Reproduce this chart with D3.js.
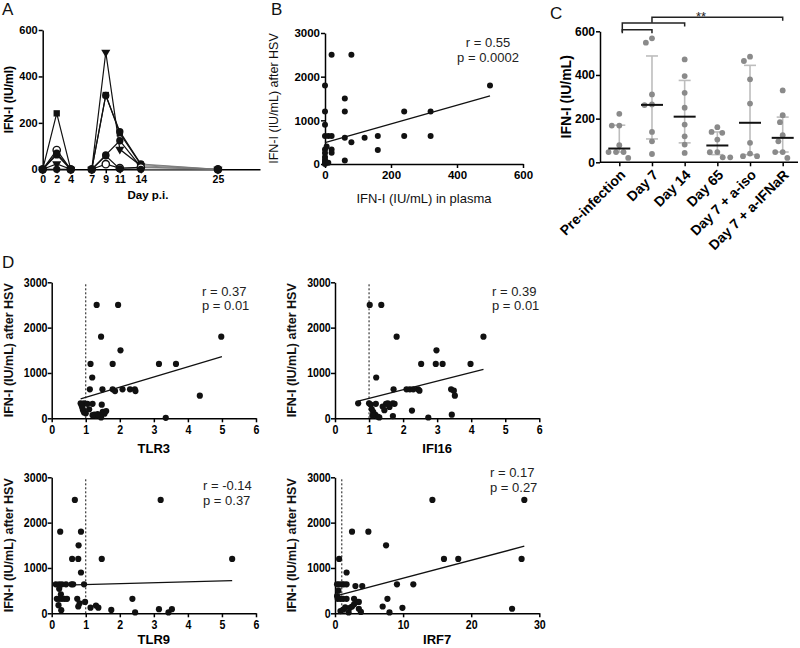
<!DOCTYPE html>
<html><head><meta charset="utf-8">
<script src="https://cdn.jsdelivr.net/npm/d3@7"></script>
<style>
body{margin:0;background:#fff}
svg{display:block}
text{font-family:"Liberation Sans",Arial,Helvetica,sans-serif}
</style>
</head><body>
<script>
// ---------------- DATA ----------------
// Panel A
const aDays1 = [0, 2, 4];
const aDays2 = [7, 9, 11, 14, 25];
const aDayTicks = [0, 2, 4, 7, 9, 11, 14, 25];
const aYTicks = [0, 200, 400, 600];
const aGroup1 = [[0,241,0],[0,83,0],[0,69,0],[0,62,0],[0,23,0],[0,0,0]];
const aGroup1Markers = ["square","openCircle","circle","circle","triangleDown","circle"];
const aGroup2 = [[0,504,86,15,0],[0,320,155,20,0],[0,318,162,23,0],[0,62,123,10,0],[0,22,5,8,0],[0,58,2,0,0]];
const aGroup2Markers = ["triangleDown","square","circle","circle","openCircle","circle"];

// Panel B
const bPlasma = [20,80,0,500,60,0,60,240,320,0,0,10,20,60,120,160,240,320,80,160,0,0,0,0,0,0,20,20,60,5,0,10];
const bHSV    = [2500,2500,1800,1800,1500,1200,1200,1200,1200,900,640,640,640,600,600,640,640,640,500,320,330,250,160,100,50,0,330,260,80,400,20,30];
const bFit = [[0,490],[500,1560]];
const bXTicks = [0,200,400,600];
const bYTicks = [0,1000,2000,3000];
const bStats = ["r = 0.55","p = 0.0002"];

// Panel C
const cCategories = ["Pre-infection","Day 7","Day 14","Day 65","Day 7 + a-iso","Day 7 + a-IFNaR"];
const cPre     = [222,168,168,78,47,47,47,20];
const cDay7    = [568,548,311,265,262,139,96,38];
const cDay14   = [471,395,318,250,173,119,81,43];
const cDay65   = [161,139,135,104,47,46,23,23];
const cIso     = [484,464,380,269,89,40,28,28];
const cIFNaR   = [329,216,184,124,96,47,47,20];
const cMedian  = [63,263,209,77,181,112];
const cQ1      = [47,107,89,35,35,47];
const cQ3      = [170,487,375,139,444,207];
const cYTicks  = [0,200,400,600];
const cBrackets = [["Day 7","Day 7 + a-IFNaR"],["Pre-infection","Day 14"],["Pre-infection","Day 7"]];
const cSignif = "**";

// Panel D
const dNames = ["TLR3","IFI16","TLR9","IRF7"];
const dStats = [["r = 0.37","p = 0.01"],["r = 0.39","p = 0.01"],["r = -0.14","p = 0.37"],["r = 0.17","p = 0.27"]];
const dXDomains = [[0,6],[0,6],[0,6],[0,30]];
const dXTicks = [[0,1,2,3,4,5,6],[0,1,2,3,4,5,6],[0,1,2,3,4,5,6],[0,10,20,30]];
const dYTicks = [0,1000,2000,3000];
const dCutoff = 1;

const tlr3X = [1.32,1.95,1.45,4.98,2.02,1.14,1.79,3.15,3.65,1.19,1.12,1.49,1.79,1.86,2.08,2.30,2.44,2.46,4.35,3.35,0.85,0.95,1.05,1.2,0.88,0.92,0.95,1.0,1.1,1.25,1.3,1.4,1.47,1.5,1.55,1.45,1.6,1.35,1.2,0.9];
const tlr3Y = [2500,2500,1800,1800,1500,1200,1200,1200,1200,900,640,640,640,600,640,640,640,600,500,10,330,330,320,320,280,180,130,110,200,80,60,60,300,140,100,20,160,90,70,230];
const tlr3Fit = [[0.85,430],[5.0,1360]];

const ifi16X = [1.02,1.36,1.81,4.36,2.98,2.53,2.96,3.16,3.98,1.21,1.72,2.1,2.2,2.3,2.44,2.48,3.41,3.49,3.52,3.43,2.74,2.26,0.68,1.0,1.05,1.08,1.12,1.18,1.25,1.3,1.1,1.4,1.5,1.55,1.6,1.7,1.75,1.7,1.45,1.2];
const ifi16Y = [2500,2500,1800,1800,1500,1200,1200,1200,1200,900,640,640,640,640,640,610,640,610,500,80,18,170,330,330,300,200,140,80,40,20,60,260,320,330,250,330,320,50,180,320];
const ifi16Fit = [[0.68,380],[4.36,1080]];

const tlr9X = [0.68,3.2,0.25,0.86,0.79,0.6,0.78,1.47,5.3,0.86,0.12,0.22,0.3,0.42,0.58,0.63,0.95,0.22,0.27,0.15,0.22,0.3,0.38,0.45,0.75,0.82,0.78,0.2,0.28,0.98,1.14,1.3,1.37,1.75,2.37,2.45,3.15,3.43,3.53];
const tlr9Y = [2500,2500,1800,1800,1500,1200,1200,1200,1200,900,640,640,640,640,640,640,640,540,420,320,320,320,320,320,320,220,150,180,70,250,125,170,125,75,320,20,90,20,90];
const tlr9Fit = [[0.12,615],[5.3,720]];

const irf7X = [14.3,27.8,2.5,4.9,7.5,0.6,16,18.1,27.4,1.7,11.5,9.1,4,3,7.7,7,9.9,8,26,0.3,0.6,1.0,1.3,1.7,0.5,0.4,0.8,1.2,1.7,2.8,3.2,0.8,1.2,1.5,2.0,2.5,2.8,3.5,3.8,3.5,0.3,2.2];
const irf7Y = [2500,2500,1800,1800,1500,1200,1200,1200,1200,900,640,640,600,600,320,150,120,20,100,640,640,640,640,640,500,320,320,320,320,320,250,50,80,130,20,150,200,100,30,250,380,120];
const irf7Fit = [[0.3,390],[27.8,1480]];

// ---------------- DRAW ----------------
const FONT = '"Liberation Sans",Arial,Helvetica,sans-serif';
const fmt = d3.format("d");
const svg = d3.select("body").append("svg").attr("width",800).attr("height",648);
svg.append("rect").attr("width",800).attr("height",648).attr("fill","#fff");

function styleAxis(g, o) {
  g.select(".domain").attr("stroke","#000").attr("stroke-width",o.sw || 1.5);
  g.selectAll(".tick line").attr("stroke","#000").attr("stroke-width",o.sw || 1.5);
  const t = g.selectAll(".tick text").attr("fill","#000")
    .style("font-size",o.fs+"px").style("font-weight","bold").style("font-family",FONT);
  if (o.sx) t.attr("transform",`scale(${o.sx},1)`);
}
function letter(x,y,s){ svg.append("text").attr("x",x).attr("y",y).text(s).style("font-size","17px").attr("fill","#111"); }

// ---- Panel A ----
letter(2,15,"A");
const xA = d3.scaleLinear().domain([0,31]).range([42.7,260]);
const yA = d3.scaleLinear().domain([0,600]).range([169.3,30]);
const gA = svg.append("g");
gA.append("g").attr("transform",`translate(0,${yA(0)})`)
  .call(d3.axisBottom(xA).tickValues(aDayTicks).tickFormat(fmt).tickSize(4).tickSizeOuter(0).tickPadding(2))
  .call(g=>styleAxis(g,{fs:10.5}));
gA.append("g").attr("transform",`translate(${xA(0)},0)`)
  .call(d3.axisLeft(yA).tickValues(aYTicks).tickFormat(fmt).tickSize(4).tickSizeOuter(0).tickPadding(1))
  .call(g=>styleAxis(g,{fs:11}));
gA.append("text").attr("transform",`translate(13,${(yA(0)+yA(600))/2}) rotate(-90)`)
  .attr("text-anchor","middle").style("font-size","12px").style("font-weight","bold").text("IFN-I (IU/ml)");
gA.append("text").attr("x",148).attr("y",199).attr("text-anchor","middle")
  .style("font-size","11.5px").style("font-weight","bold").text("Day p.i.");

const lineA = d3.line().x(d=>xA(d[0])).y(d=>yA(d[1]));
function symbolPath(kind){
  if (kind==="square") return d3.symbol().type(d3.symbolSquare).size(40)();
  if (kind==="triangleDown") return d3.symbol().type(d3.symbolTriangle).size(36)();
  return d3.symbol().type(d3.symbolCircle).size(42)();
}
function drawAGroup(days, group, markers){
  group.forEach((vals,i)=>{
    const pts = days.map((d,j)=>[d,vals[j]]);
    const main = pts.filter(p=>p[0]<=14), tail = pts.filter(p=>p[0]>=14);
    gA.append("path").attr("d",lineA(main)).attr("fill","none").attr("stroke","#111").attr("stroke-width",1.2);
    if (tail.length>1) gA.append("path").attr("d",lineA(tail)).attr("fill","none").attr("stroke","#777").attr("stroke-width",0.9);
  });
  group.forEach((vals,i)=>{
    const kind = markers[i];
    days.forEach((d,j)=>{
      const p = gA.append("path").attr("d",symbolPath(kind))
        .attr("transform",`translate(${xA(d)},${yA(vals[j])})${kind==="triangleDown"?" rotate(180)":""}`);
      if (kind==="openCircle") p.attr("fill","#fff").attr("stroke","#111").attr("stroke-width",1.4);
      else p.attr("fill","#111");
    });
  });
}
drawAGroup(aDays1,aGroup1,aGroup1Markers);
drawAGroup(aDays2,aGroup2,aGroup2Markers);

// ---- Panel B ----
letter(271,15,"B");
const xB = d3.scaleLinear().domain([0,600]).range([325,523]);
const yB = d3.scaleLinear().domain([0,3000]).range([164,33]);
const gB = svg.append("g");
gB.append("g").attr("transform",`translate(0,${yB(0)})`)
  .call(d3.axisBottom(xB).tickValues(bXTicks).tickFormat(fmt).tickSize(4).tickSizeOuter(0).tickPadding(3))
  .call(g=>styleAxis(g,{fs:11.5}));
gB.append("g").attr("transform",`translate(${xB(0)},0)`)
  .call(d3.axisLeft(yB).tickValues(bYTicks).tickFormat(fmt).tickSize(4).tickSizeOuter(0).tickPadding(1))
  .call(g=>styleAxis(g,{fs:11.5}));
gB.append("text").attr("transform",`translate(278,${(yB(0)+yB(3000))/2}) rotate(-90)`)
  .attr("text-anchor","middle").style("font-size","12.5px").attr("fill","#111").text("IFN-I (IU/mL) after HSV");
gB.append("text").attr("x",(xB(0)+xB(600))/2).attr("y",203).attr("text-anchor","middle")
  .style("font-size","13px").attr("fill","#111").text("IFN-I (IU/mL) in plasma");
gB.selectAll("circle.pt").data(bPlasma.map((x,i)=>[x,bHSV[i]])).join("circle")
  .attr("cx",d=>xB(d[0])).attr("cy",d=>yB(d[1])).attr("r",3).attr("fill","#111");
gB.append("line").attr("x1",xB(bFit[0][0])).attr("y1",yB(bFit[0][1])).attr("x2",xB(bFit[1][0])).attr("y2",yB(bFit[1][1]))
  .attr("stroke","#111").attr("stroke-width",1.3);
gB.append("text").attr("x",488).attr("y",47).attr("text-anchor","middle").style("font-size","13px").attr("fill","#222").text(bStats[0]);
gB.append("text").attr("x",488).attr("y",62).attr("text-anchor","middle").style("font-size","13px").attr("fill","#222").text(bStats[1]);

// ---- Panel C ----
letter(550,19,"C");
const xC = d3.scalePoint().domain(cCategories).range([619.3,782.7]);
const yC = d3.scaleLinear().domain([0,600]).range([162.3,31.3]);
const gC = svg.append("g");
const cAxisLeft = 600, cAxisRight = 798;
gC.append("line").attr("x1",cAxisLeft).attr("x2",cAxisRight).attr("y1",yC(0)).attr("y2",yC(0)).attr("stroke","#000").attr("stroke-width",1.5);
const cx = gC.append("g").attr("transform",`translate(0,${yC(0)})`)
  .call(d3.axisBottom(xC).tickSize(4).tickSizeOuter(0))
  .call(g=>styleAxis(g,{fs:14}));
cx.select(".domain").remove();
cx.selectAll(".tick text").attr("x",0).attr("y",0).attr("dy","0.35em")
  .attr("transform","translate(3,10) rotate(-45)").style("text-anchor","end");
gC.append("g").attr("transform",`translate(${cAxisLeft},0)`)
  .call(d3.axisLeft(yC).tickValues(cYTicks).tickFormat(fmt).tickSize(4).tickSizeOuter(0).tickPadding(1))
  .call(g=>styleAxis(g,{fs:12}));
gC.append("text").attr("transform",`translate(571,${(yC(0)+yC(600))/2}) rotate(-90)`)
  .attr("text-anchor","middle").style("font-size","14px").style("font-weight","bold").text("IFN-I (IU/mL)");

function swarm(vals, y, d){
  const pts = vals.map(v=>({v, y:y(v), x:0})).sort((a,b)=>a.y-b.y);
  const placed = [];
  for (const p of pts){
    const cands = [0];
    for (const q of placed){ const dy = Math.abs(q.y-p.y); if (dy<d){ const dx=Math.sqrt(d*d-dy*dy); cands.push(q.x+dx+0.01, q.x-dx-0.01);} }
    cands.sort((a,b)=>Math.abs(a)-Math.abs(b) || a-b);
    for (const c of cands){ if (placed.every(q=>(q.x-c)**2+(q.y-p.y)**2 >= d*d-0.1)){ p.x=c; break; } }
    placed.push(p);
  }
  return pts;
}
const cGroups = [cPre,cDay7,cDay14,cDay65,cIso,cIFNaR];
cCategories.forEach((cat,i)=>{
  const x = xC(cat);
  const g = gC.append("g");
  g.append("line").attr("x1",x).attr("x2",x).attr("y1",yC(cQ1[i])).attr("y2",yC(cQ3[i])).attr("stroke","#bdbdbd").attr("stroke-width",1.6);
  [cQ1[i],cQ3[i]].forEach(v=>g.append("line").attr("x1",x-6).attr("x2",x+6).attr("y1",yC(v)).attr("y2",yC(v)).attr("stroke","#bdbdbd").attr("stroke-width",1.6));
  swarm(cGroups[i], yC, 7.5).forEach(p=>{
    g.append("circle").attr("cx",x+p.x).attr("cy",p.y).attr("r",2.9).attr("fill","#8a8a8a");
  });
  g.append("line").attr("x1",x-11).attr("x2",x+11).attr("y1",yC(cMedian[i])).attr("y2",yC(cMedian[i])).attr("stroke","#111").attr("stroke-width",2);
});
const bracketLevels = [17.3,23,29.7];
const bracketLegs = [[5.5,3.5],[9,3.5],[3.5,3.5]];
cBrackets.forEach((b,i)=>{
  const x1 = xC(b[0]) + (b[0]==="Pre-infection"?3:0), x2 = xC(b[1]), y = bracketLevels[i];
  gC.append("path").attr("d",`M${x1},${y+bracketLegs[i][0]}V${y}H${x2}V${y+bracketLegs[i][1]}`)
    .attr("fill","none").attr("stroke","#222").attr("stroke-width",1.5);
});
gC.append("text").attr("x",701).attr("y",21).attr("text-anchor","middle").style("font-size","13px").attr("fill","#222").text(cSignif);

// ---- Panel D ----
letter(2,268,"D");
const dLayout = [
  {x0:51.7,x1:256,yb:418.3,yt:282.3,ylab:12.5,xlab:453,stat:[202,296,310]},
  {x0:335,x1:539.3,yb:418.3,yt:282.3,ylab:296,xlab:453,stat:[492,296,310]},
  {x0:51.7,x1:256,yb:613.3,yt:477.3,ylab:12.5,xlab:644,stat:[203,490,505]},
  {x0:335,x1:539.3,yb:613.3,yt:477.3,ylab:296,xlab:644,stat:[490,477,492]}
];
const dPoints = [[tlr3X,tlr3Y],[ifi16X,ifi16Y],[tlr9X,tlr9Y],[irf7X,irf7Y]];
const dFits = [tlr3Fit,ifi16Fit,tlr9Fit,irf7Fit];
dNames.forEach((name,i)=>{
  const L = dLayout[i];
  const x = d3.scaleLinear().domain(dXDomains[i]).range([L.x0,L.x1]);
  const y = d3.scaleLinear().domain([0,3000]).range([L.yb,L.yt]);
  const g = svg.append("g");
  g.append("g").attr("transform",`translate(0,${L.yb})`)
    .call(d3.axisBottom(x).tickValues(dXTicks[i]).tickFormat(fmt).tickSize(4).tickSizeOuter(0).tickPadding(3))
    .call(a=>styleAxis(a,{fs:12.5,sx:0.85}));
  g.append("g").attr("transform",`translate(${L.x0},0)`)
    .call(d3.axisLeft(y).tickValues(dYTicks).tickFormat(fmt).tickSize(4).tickSizeOuter(0).tickPadding(1))
    .call(a=>styleAxis(a,{fs:12.5,sx:0.85}));
  g.append("line").attr("x1",x(dCutoff)).attr("x2",x(dCutoff)).attr("y1",y(0)).attr("y2",y(3000))
    .attr("stroke","#111").attr("stroke-width",1).attr("stroke-dasharray","2,2");
  const [xs,ys] = dPoints[i];
  g.selectAll("circle").data(xs.map((v,j)=>[v,ys[j]])).join("circle")
    .attr("cx",d=>x(d[0])).attr("cy",d=>y(d[1])).attr("r",3.1).attr("fill","#111");
  const f = dFits[i];
  g.append("line").attr("x1",x(f[0][0])).attr("y1",y(f[0][1])).attr("x2",x(f[1][0])).attr("y2",y(f[1][1]))
    .attr("stroke","#111").attr("stroke-width",1.3);
  g.append("text").attr("transform",`translate(${L.ylab},${(L.yb+L.yt)/2}) rotate(-90)`)
    .attr("text-anchor","middle").style("font-size","12.5px").style("font-weight","bold").attr("fill","#111").text("IFN-I (IU/mL) after HSV");
  g.append("text").attr("x",(L.x0+L.x1)/2).attr("y",L.xlab).attr("text-anchor","middle")
    .style("font-size","13px").style("font-weight","bold").text(name);
  g.append("text").attr("x",L.stat[0]).attr("y",L.stat[1]).style("font-size","13px").attr("fill","#222").text(dStats[i][0]);
  g.append("text").attr("x",L.stat[0]).attr("y",L.stat[2]).style("font-size","13px").attr("fill","#222").text(dStats[i][1]);
});
</script>
</body></html>
